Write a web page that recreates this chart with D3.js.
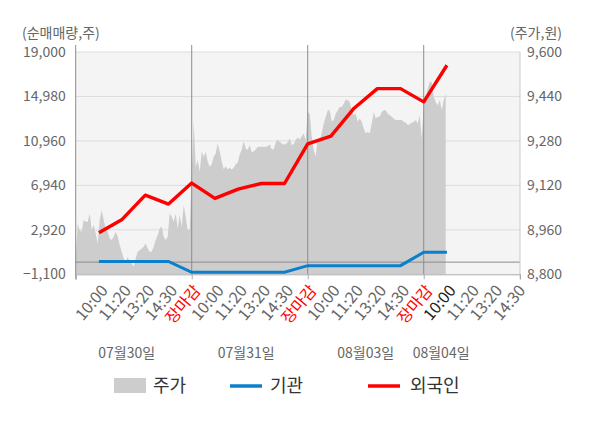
<!DOCTYPE html>
<html>
<head>
<meta charset="utf-8">
<script src="https://cdn.jsdelivr.net/npm/d3@7"></script>
<style>
  body { margin: 0; background: #fff; }
  text { font-family: "Noto Sans CJK KR", "Noto Sans", sans-serif; }
</style>
</head>
<body>
<div id="chart"></div>
<script>
"use strict";

// x axis labels (one per slot, slot 1..19)
var xLabels = ["10:00", "11:20", "13:20", "14:30", "장마감",
               "10:00", "11:20", "13:20", "14:30", "장마감",
               "10:00", "11:20", "13:20", "14:30", "장마감",
               "10:00", "11:20", "13:20", "14:30"];
var dayLabels = ["07월30일", "07월31일", "08월03일", "08월04일"];

var leftTicks = [-1100, 2920, 6940, 10960, 14980, 19000];
var rightTicks = [8800, 8960, 9120, 9280, 9440, 9600];

// 외국인 / 기관 net buying, slots 1..16
var foreign = [2660, 3860, 6060, 5250, 7150, 5760, 6600, 7110, 7110,
               10700, 11390, 13920, 15690, 15690, 14490, 17800];
var inst = [60, 60, 60, 60, -920, -920, -920, -920, -920,
            -320, -320, -320, -320, -320, 890, 890];

// 주가 (intraday) per day
var price0730 = [8863, 8983, 8959, 8953, 8995, 8989, 8989, 9019, 8959, 8977,
                 8947, 8911, 8995, 9031, 8995, 8965, 8953, 8929, 8923, 8935,
                 8953, 8935, 8905, 8881, 8857, 8845, 8863, 8845, 8839, 8827,
                 8857, 8881, 8887, 8893, 8899, 8911, 8893, 8881, 8881, 8899,
                 8923, 8941, 8965, 8971, 8935, 8923, 8935, 9019, 9007, 8989,
                 9019, 8965, 9013, 8971, 9049, 9007, 8959, 8959];
var price0731 = [9163, 9349, 9187, 9211, 9169, 9241, 9223, 9241, 9205, 9187,
                 9196, 9223, 9235, 9271, 9241, 9208, 9178, 9189, 9177, 9183,
                 9177, 9183, 9196, 9201, 9232, 9247, 9280, 9253, 9247, 9265,
                 9238, 9243, 9249, 9259, 9259, 9259, 9259, 9259, 9261, 9268,
                 9250, 9249, 9274, 9285, 9276, 9271, 9267, 9268, 9276, 9289,
                 9265, 9268, 9283, 9292, 9285, 9297, 9307, 9283];
var price0803 = [9384, 9378, 9295, 9247, 9223, 9289, 9283, 9307, 9343, 9367,
                 9390, 9390, 9349, 9355, 9378, 9390, 9402, 9402, 9414, 9429,
                 9426, 9420, 9390, 9372, 9378, 9349, 9361, 9349, 9325, 9307,
                 9313, 9307, 9343, 9384, 9361, 9367, 9367, 9384, 9390, 9390,
                 9378, 9372, 9367, 9361, 9355, 9355, 9355, 9355, 9349, 9345,
                 9337, 9340, 9345, 9349, 9355, 9343, 9372, 9289];
var price0804 = [9402, 9438, 9468, 9492, 9492, 9438, 9420, 9408, 9426, 9390,
                 9426, 9450];

function drawChart(w, h) {
  var left = 75.7, right = 520, top = 52, bottom = 274.3;
  var samplesPerDay = 58;

  var x = d3.scaleLinear().domain([0, 19.15]).range([left, right]);
  var yL = d3.scaleLinear().domain([-1100, 19000]).range([bottom, top]);
  var yR = d3.scaleLinear().domain([8800, 9600]).range([bottom, top]);

  // flatten price days into slot positions
  var priceData = [];
  [price0730, price0731, price0803, price0804].forEach(function (day, d) {
    day.forEach(function (v, i) {
      priceData.push({ slot: d * 5 + i * 5 / samplesPerDay, value: v });
    });
  });

  var svg = d3.select("#chart").append("svg")
    .attr("width", w)
    .attr("height", h);

  // plot background
  svg.append("rect")
    .attr("x", left).attr("y", top)
    .attr("width", right - left).attr("height", bottom - top)
    .attr("fill", "#f4f4f4");

  // gridlines
  svg.append("g")
    .selectAll("line")
    .data(leftTicks.slice(1))
    .enter().append("line")
    .attr("x1", left).attr("x2", right)
    .attr("y1", function (d) { return yL(d); })
    .attr("y2", function (d) { return yL(d); })
    .attr("stroke", "#dcdcdc");

  // price area
  var area = d3.area()
    .x(function (d) { return x(d.slot); })
    .y0(bottom)
    .y1(function (d) { return yR(d.value); });

  svg.append("path")
    .datum(priceData)
    .attr("fill", "#cdcdcd")
    .attr("d", area);

  // zero line
  svg.append("line")
    .attr("x1", left).attr("x2", right)
    .attr("y1", yL(0)).attr("y2", yL(0))
    .attr("stroke", "#8c8c8c");

  // day separators
  svg.append("g")
    .selectAll("line")
    .data([5, 10, 15])
    .enter().append("line")
    .attr("x1", function (d) { return x(d); })
    .attr("x2", function (d) { return x(d); })
    .attr("y1", top - 7).attr("y2", bottom)
    .attr("stroke", "#8c8c8c");

  // lines
  var line = d3.line()
    .x(function (d, i) { return x(i + 1); });

  svg.append("path")
    .datum(inst)
    .attr("fill", "none")
    .attr("stroke", "#0a80cc")
    .attr("stroke-width", 3)
    .attr("d", line.y(function (d) { return yL(d); }));

  svg.append("path")
    .datum(foreign)
    .attr("fill", "none")
    .attr("stroke", "#ff0000")
    .attr("stroke-width", 3.4)
    .attr("stroke-linejoin", "round")
    .attr("d", line.y(function (d) { return yL(d); }));

  // left axis
  var yAxisL = d3.axisLeft(yL)
    .tickValues(leftTicks)
    .tickSize(0)
    .tickPadding(10)
    .tickFormat(d3.format(","));
  var gL = svg.append("g")
    .attr("transform", "translate(" + left + ",0)")
    .call(yAxisL);
  gL.select(".domain").remove();
  gL.append("line")
    .attr("x1", 0).attr("x2", 0)
    .attr("y1", top - 7).attr("y2", bottom + 5)
    .attr("stroke", "#8c8c8c");

  // right axis
  var yAxisR = d3.axisRight(yR)
    .tickValues(rightTicks)
    .tickSize(0)
    .tickPadding(7)
    .tickFormat(d3.format(","));
  var gR = svg.append("g")
    .attr("transform", "translate(" + right + ",0)")
    .call(yAxisR);
  gR.select(".domain").remove();
  gR.append("line")
    .attr("x1", 0).attr("x2", 0)
    .attr("y1", top).attr("y2", bottom + 5)
    .attr("stroke", "#cccccc");

  svg.selectAll(".tick text")
    .attr("font-size", 14)
    .attr("fill", "#666")
    .attr("font-family", "Noto Sans CJK KR");

  // bottom axis: ticks at day boundaries
  var xAxis = d3.axisBottom(x)
    .tickValues([0, 5, 10, 15, 19.15])
    .tickSize(5)
    .tickFormat("");
  var gX = svg.append("g")
    .attr("transform", "translate(0," + bottom + ")")
    .call(xAxis);
  gX.select(".domain").attr("stroke", "#aaa");
  gX.selectAll(".tick line").attr("stroke", "#aaa");

  // time labels
  var xLabelAxis = d3.axisBottom(x)
    .tickValues(d3.range(1, 20))
    .tickSize(0)
    .tickFormat(function (d) { return xLabels[d - 1]; });
  var gXL = svg.append("g")
    .attr("transform", "translate(0," + bottom + ")")
    .call(xLabelAxis);
  gXL.select(".domain").remove();
  gXL.selectAll("text")
    .attr("x", 0).attr("y", 0).attr("dy", "0.35em")
    .attr("transform", "translate(5,13) rotate(-50)")
    .attr("text-anchor", "end")
    .attr("font-size", 16)
    .attr("font-family", "Noto Sans CJK KR")
    .attr("fill", function (d) {
      if (xLabels[d - 1] === "장마감") return "#ff0000";
      if (d === 16) return "#222";
      return "#666";
    });

  // day labels
  svg.append("g")
    .selectAll("text")
    .data(dayLabels)
    .enter().append("text")
    .attr("x", function (d, i) { return x([2.2, 7.35, 12.5, 15.75][i]); })
    .attr("y", 358)
    .attr("text-anchor", "middle")
    .attr("font-size", 14)
    .attr("fill", "#666")
    .text(function (d) { return d; });

  // axis titles
  svg.append("text")
    .attr("x", 22).attr("y", 38)
    .attr("font-size", 14).attr("fill", "#666")
    .text("(순매매량,주)");
  svg.append("text")
    .attr("x", 562).attr("y", 38)
    .attr("text-anchor", "end")
    .attr("font-size", 14).attr("fill", "#666")
    .text("(주가,원)");

  // legend
  var legend = svg.append("g").attr("transform", "translate(0,386)");
  legend.append("rect")
    .attr("x", 114).attr("y", -8)
    .attr("width", 32).attr("height", 15)
    .attr("fill", "#cdcdcd");
  legend.append("line")
    .attr("x1", 230).attr("x2", 262)
    .attr("stroke", "#0a80cc").attr("stroke-width", 3.5);
  legend.append("line")
    .attr("x1", 368).attr("x2", 400)
    .attr("stroke", "#ff0000").attr("stroke-width", 3.5);
  legend.selectAll("text")
    .data([["주가", 153], ["기관", 270], ["외국인", 410]])
    .enter().append("text")
    .attr("x", function (d) { return d[1]; })
    .attr("y", 0)
    .attr("dy", "0.36em")
    .attr("font-size", 18)
    .attr("fill", "#333")
    .text(function (d) { return d[0]; });
}

window.onload = function () {
  drawChart(600, 428);
};
</script>
</body>
</html>
